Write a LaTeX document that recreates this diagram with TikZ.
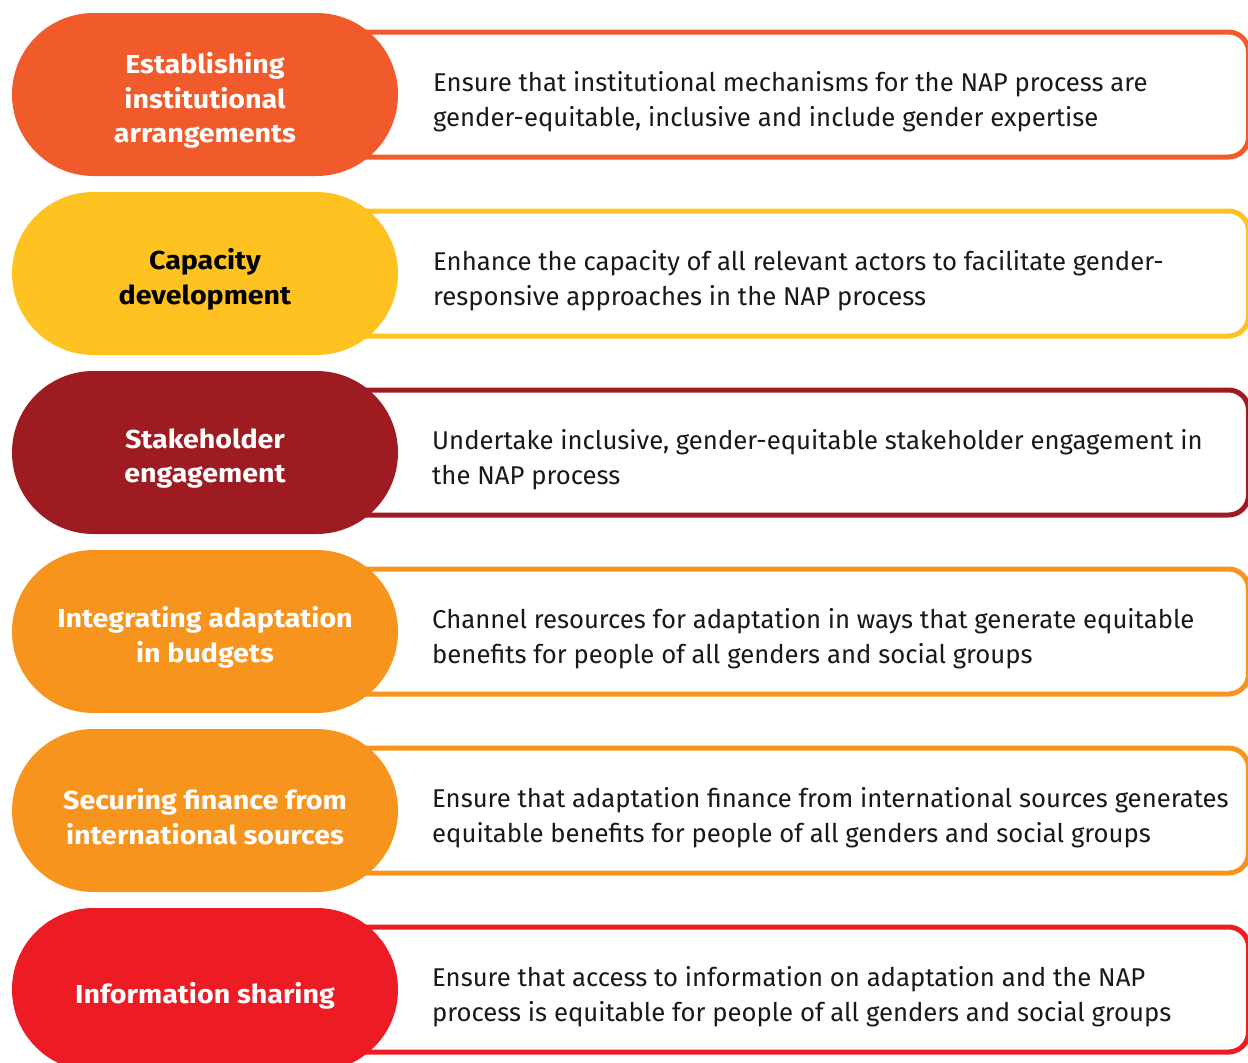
\documentclass[tikz,border=0pt]{standalone}
\usepackage{fontspec}
\setmainfont{Fira Sans}
\newfontfamily\pillfont{Fira Sans}[FakeStretch=1.1]
\usetikzlibrary{backgrounds, positioning}
\definecolor{estorange}{HTML}{F15A2B}
\definecolor{capyellow}{HTML}{FEC221}
\definecolor{stakered}{HTML}{9E1B22}
\definecolor{budgetorange}{HTML}{F7941D}
\definecolor{infored}{HTML}{ED1C24}

\begin{document}
\begin{tikzpicture}[x=1pt, y=-1pt,
    pill/.style={fill=#1, rounded corners=81.5pt, minimum width=386pt, minimum height=163pt,
      inner sep=0pt},
    pilltext/.style={align=center, inner sep=0pt, text=white,
      font=\pillfont\fontsize{26}{34.5}\selectfont\bfseries},
    box/.style={draw=#1, fill=white, line width=5pt, rounded corners=20pt, anchor=west,
      minimum width=916pt, minimum height=125pt, inner sep=0pt},
    desc/.style={anchor=west, align=left, inner sep=0pt, text=black!90,
      font=\fontsize{25.7}{35}\selectfont}]
  \useasboundingbox (0,0) rectangle (1248,1063);
  % Institutional arrangements
  \node[box=estorange] (estbox) at (330,94.5) {};
  \node[pill=estorange] (est) at (205,94.5) {};
  \node[pilltext] at ([yshift=-6pt]est.center) {Establishing\\institutional\\arrangements};
  \node[desc] (estdesc) at (433,102) {Ensure that institutional mechanisms for the NAP process are\\gender-equitable, inclusive and include gender expertise};
  % Capacity
  \node[box=capyellow] (capbox) at (330,273.5) {};
  \node[pill=capyellow] (cap) at (205,273.5) {};
  \node[pilltext, text=black] at ([yshift=-6pt]cap.center) {Capacity\\development};
  \node[desc] (capdesc) at (433,281) {Enhance the capacity of all relevant actors to facilitate gender-\\responsive approaches in the NAP process};
  % Stakeholders
  \node[box=stakered] (stkbox) at (330,452.5) {};
  \node[pill=stakered] (stk) at (205,452.5) {};
  \node[pilltext] at ([yshift=-6pt]stk.center) {Stakeholder\\engagement};
  \node[desc] (stkdesc) at (432,460) {Undertake inclusive, gender-equitable stakeholder engagement in\\the NAP process};
  % Budgets
  \node[box=budgetorange] (budbox) at (330,631.5) {};
  \node[pill=budgetorange] (bud) at (205,631.5) {};
  \node[pilltext] at ([yshift=-6pt]bud.center) {Integrating adaptation\\in budgets};
  \node[desc] (buddesc) at (432,639) {Channel resources for adaptation in ways that generate equitable\\benefits for people of all genders and social groups};
  % Finance
  \node[box=budgetorange] (finbox) at (330,810.5) {};
  \node[pill=budgetorange] (fin) at (205,810.5) {};
  \node[pilltext] at ([yshift=-6pt]fin.center) {Securing finance from\\international sources};
  \node[desc] (findesc) at (432,818) {Ensure that adaptation finance from international sources generates\\equitable benefits for people of all genders and social groups};
  % Information
  \node[box=infored] (infbox) at (330,989.5) {};
  \node[pill=infored] (inf) at (205,989.5) {};
  \node[pilltext] at ([yshift=-6pt]inf.center) {Information sharing};
  \node[desc] (infdesc) at (432,997) {Ensure that access to information on adaptation and the NAP\\process is equitable for people of all genders and social groups};
\end{tikzpicture}
\end{document}
